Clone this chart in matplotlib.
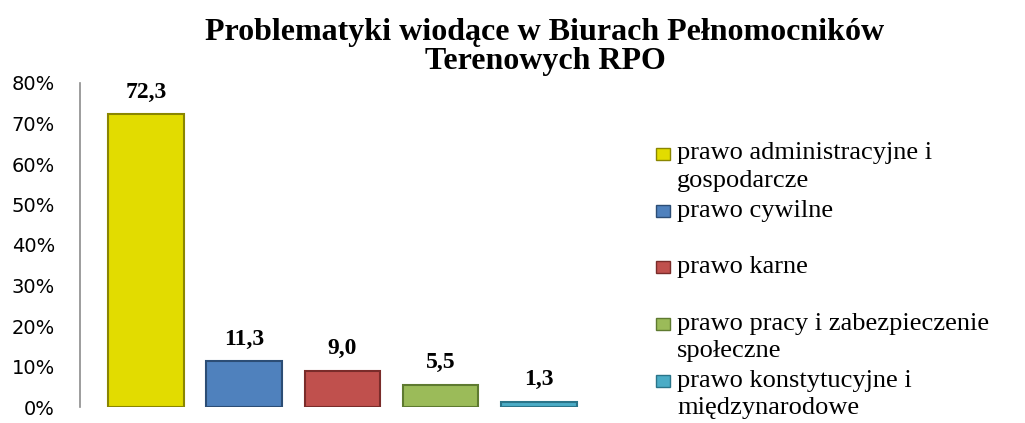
import matplotlib
matplotlib.use("Agg")
import matplotlib.pyplot as plt
from matplotlib.patches import Rectangle
import numpy as np

title = "Problematyki wiodące w Biurach Pełnomocników\nTerenowych RPO"
categories = ["prawo administracyjne i\ngospodarcze",
              "prawo cywilne",
              "prawo karne",
              "prawo pracy i zabezpieczenie\nspołeczne",
              "prawo konstytucyjne i\nmiędzynarodowe"]
values = [72.3, 11.3, 9.0, 5.5, 1.3]
value_labels = ["72,3", "11,3", "9,0", "5,5", "1,3"]
colors = ["#E2DC00", "#4F81BD", "#C0504D", "#9BBB59", "#4BACC6"]
edge_colors = ["#8A8600", "#2C4D75", "#7A2C2A", "#5E7A30", "#2A7489"]
yticks = [0, 10, 20, 30, 40, 50, 60, 70, 80]

fig = plt.figure(figsize=(10.25, 4.23), dpi=100)
ax = fig.add_axes([80/1025, 1-407/423, (588-80)/1025, (407-83)/423])

x = np.arange(len(values))
bars = ax.bar(x, values, width=0.77, color=colors, edgecolor=edge_colors, linewidth=1.5)
for xi, v, lab in zip(x, values, value_labels):
    ax.annotate(lab, (xi, v), xytext=(0, 12), textcoords="offset points",
                ha="center", va="baseline", fontsize=17, fontweight="bold",
                family="Liberation Serif")

ax.set_ylim(0, 80)
ax.set_xlim(-0.67, 4.5)
ax.set_yticks(yticks)
ax.set_yticklabels([f"{t}%" for t in yticks], fontsize=14, family="DejaVu Sans")
ax.tick_params(axis="y", length=0, pad=18)
ax.set_xticks([])
for s in ["top", "right", "bottom"]:
    ax.spines[s].set_visible(False)
ax.spines["left"].set_color("#8C8C8C")
ax.spines["left"].set_linewidth(1.2)

fig.text(545/1025, 1-18/423, title, ha="center", va="top", fontsize=23,
         fontweight="bold", family="Liberation Serif", linespacing=0.98)

# legend (manual layout)
baselines = [161, 218, 274, 331, 388]
for lab, c, ec, y in zip(categories, colors, edge_colors, baselines):
    fig.patches.append(Rectangle((656/1025, 1-(y-1)/423), 14/1025, 12/423,
                                 transform=fig.transFigure, facecolor=c,
                                 edgecolor=ec, linewidth=1))
    fig.text(677/1025, 1-(y-18.5)/423, lab, ha="left", va="top", fontsize=19,
             family="Liberation Serif", linespacing=1.3)

fig.savefig("out.png", dpi=100)
